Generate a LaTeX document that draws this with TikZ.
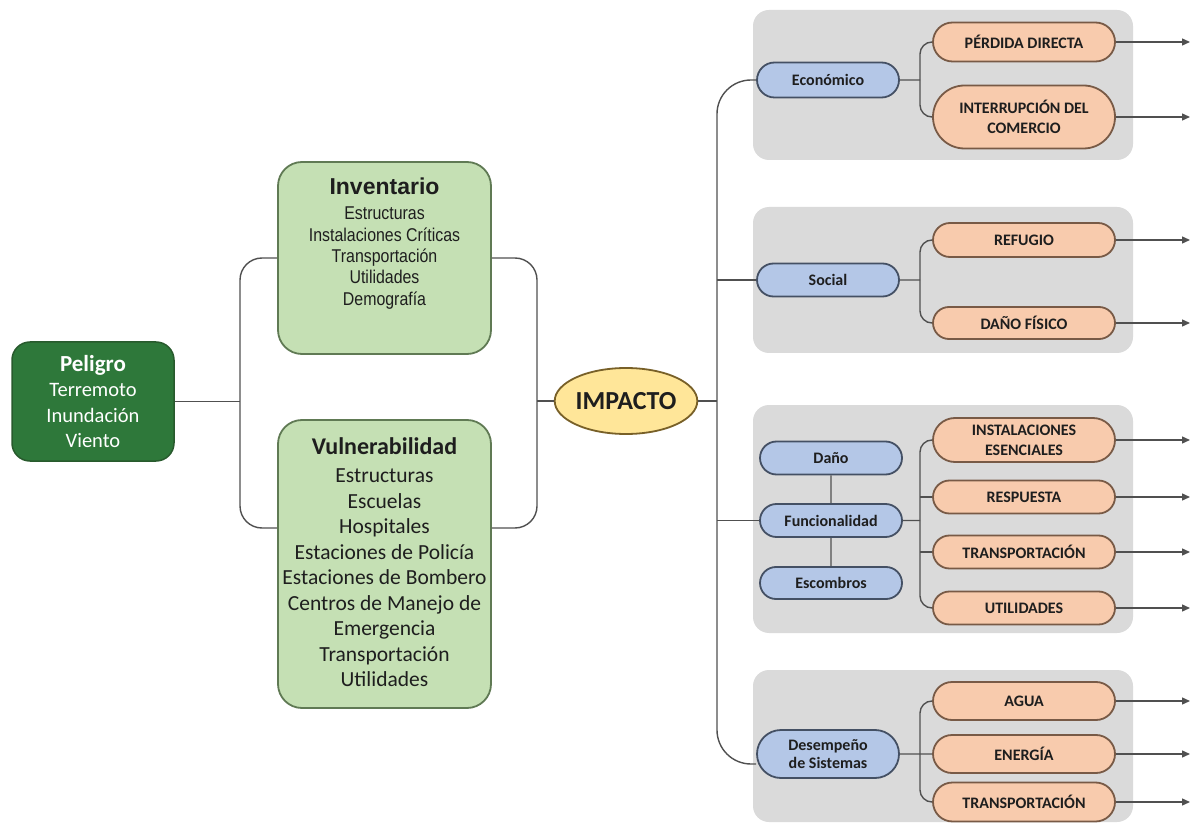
\documentclass[tikz,border=0pt]{standalone}
\usepackage{fontspec}
\setmainfont{Carlito}
\newfontfamily\arialfont{Liberation Sans}
\newfontfamily\narrowfont[FakeStretch=0.86]{Liberation Sans}
\usepackage{tikz}
\usetikzlibrary{shapes.misc, shapes.geometric, arrows.meta}
\usepackage{xcolor}
\definecolor{peligrogreen}{RGB}{46,120,58}
\definecolor{peligroedge}{RGB}{40,90,45}
\definecolor{lightgreen}{RGB}{197,224,180}
\definecolor{greenedge}{RGB}{96,122,84}
\definecolor{impactfill}{RGB}{255,230,153}
\definecolor{impactedge}{RGB}{120,96,40}
\definecolor{panelgray}{RGB}{218,218,218}
\definecolor{bluefill}{RGB}{180,199,231}
\definecolor{blueedge}{RGB}{68,80,100}
\definecolor{orangefill}{RGB}{248,203,173}
\definecolor{orangeedge}{RGB}{120,90,70}
\definecolor{linegray}{RGB}{80,80,80}
\definecolor{textdark}{RGB}{30,30,30}

\begin{document}
\begin{tikzpicture}[x=1pt, y=-1pt,
    line/.style={draw=linegray, line width=1.4pt},
    arrowline/.style={line, -{Triangle[length=8pt, width=7pt]}},
    panel/.style={fill=panelgray, rounded corners=16pt},
    peligrobox/.style={draw=peligroedge, line width=1.5pt, fill=peligrogreen, rounded corners=18pt,
        minimum width=162pt, minimum height=119pt, align=center, text=white,
        font=\fontsize{20.5}{25.5}\selectfont},
    greenbox/.style={draw=greenedge, line width=1.8pt, fill=lightgreen, rounded corners=24pt,
        inner sep=0pt, text=textdark},
    impactbox/.style={ellipse, draw=impactedge, line width=1.8pt, fill=impactfill, inner sep=0pt,
        minimum width=139pt, minimum height=66pt, text=textdark,
        font=\fontsize{26}{28}\selectfont\bfseries},
    bluepill/.style={rounded rectangle, draw=blueedge, line width=1.8pt, fill=bluefill,
        minimum width=142pt, minimum height=33pt, inner sep=0pt, align=center, text=textdark,
        font=\fontsize{16}{18.5}\selectfont\bfseries},
    orangepill/.style={rounded rectangle, draw=orangeedge, line width=1.8pt, fill=orangefill,
        minimum width=182pt, minimum height=34pt, inner sep=0pt, align=center, text=textdark,
        font=\fontsize{16}{20}\selectfont\bfseries}]
    \useasboundingbox (0,0) rectangle (1192,826);
    % Panels
    \fill[panel] (753,10) rectangle (1133,160);
    \fill[panel] (753,207) rectangle (1133,353);
    \fill[panel] (753,405) rectangle (1133,633);
    \fill[panel] (753,670) rectangle (1133,822);
    % Peligro
    \node[peligrobox] (peligro) at (93,401.5) {{\fontsize{23}{26}\selectfont\bfseries Peligro}\\Terremoto\\Inundación\\Viento};
    % Inventario
    \node[greenbox] (inv) at (384.5,258) {\parbox[c][192pt][t]{213pt}{\centering\arialfont
        \vspace*{16pt}{\fontsize{23}{25}\selectfont\bfseries Inventario\par}\vspace{4pt}
        \narrowfont\fontsize{18.5}{21.3}\selectfont Estructuras\\Instalaciones Críticas\\Transportación\\Utilidades\\Demografía\par}};
    % Vulnerabilidad
    \node[greenbox] (vul) at (384.5,564) {\parbox[c][288pt][t]{213pt}{\centering
        \vspace*{18pt}{\fontsize{24}{26}\selectfont\bfseries Vulnerabilidad\par}\vspace{2.5pt}
        \fontsize{21.5}{25.5}\selectfont Estructuras\\Escuelas\\Hospitales\\Estaciones de Policía\\Estaciones de Bombero\\Centros de Manejo de\\Emergencia\\Transportación\\Utilidades\par}};
    % Impacto
    \node[impactbox] (impacto) at (626,401) {IMPACTO};
    % Blue pills
    \node[bluepill, minimum height=35pt] (eco) at (828,80) {Económico};
    \node[bluepill] (soc) at (828,280) {Social};
    \node[bluepill] (dano) at (831,458) {Daño};
    \node[bluepill] (fun) at (831,520.5) {Funcionalidad};
    \node[bluepill, minimum height=32pt] (esc) at (831,583) {Escombros};
    \node[bluepill, minimum height=48pt] (des) at (828,754) {Desempeño\\de Sistemas};
    % Orange pills
    \node[orangepill, minimum height=39pt] (pd) at (1024,42) {PÉRDIDA DIRECTA};
    \node[orangepill, minimum height=63pt] (ic) at (1024,117) {INTERRUPCIÓN DEL\\COMERCIO};
    \node[orangepill] (ref) at (1024,240) {REFUGIO};
    \node[orangepill, minimum height=32pt] (df) at (1024,323) {DAÑO FÍSICO};
    \node[orangepill, minimum height=44pt] (ie) at (1024,440) {INSTALACIONES\\ESENCIALES};
    \node[orangepill, minimum height=33pt] (re) at (1024,497) {RESPUESTA};
    \node[orangepill, minimum height=33pt] (tp) at (1024,552) {TRANSPORTACIÓN};
    \node[orangepill, minimum height=33pt] (ut) at (1024,608) {UTILIDADES};
    \node[orangepill, minimum height=38pt] (ag) at (1024,701) {AGUA};
    \node[orangepill, minimum height=38pt] (en) at (1024,754) {ENERGÍA};
    \node[orangepill, minimum height=39pt] (tp2) at (1024,802) {TRANSPORTACIÓN};
    % Junctions
    \coordinate (jl) at (240,401.5);
    \coordinate (jr) at (537,401);
    \coordinate (tr) at (717,401);
    \coordinate (se) at (920,80);
    \coordinate (ss) at (920,280);
    \coordinate (sf) at (920,520.5);
    \coordinate (sd) at (920,754);
    \coordinate (ae) at (1190,0);
    % Left tree
    \draw[line] (peligro) -- (jl);
    \draw[line, rounded corners=22pt] (inv.west) -| (jl) |- ([yshift=36pt]vul.west);
    \draw[line, rounded corners=22pt] (inv.east) -| (jr) |- ([yshift=36pt]vul.east);
    \draw[line] (jr) -- (impacto);
    % Trunk
    \draw[line] (impacto) -- (tr);
    \draw[line, rounded corners=34pt] (eco.west) -| (tr) |- ([yshift=-10pt]des.west);
    \draw[line] (tr |- soc.west) -- (soc.west);
    \draw[line] (tr |- fun.west) -- (fun.west);
    \draw[line] (dano) -- (fun) -- (esc);
    % Splits
    \draw[line] (eco) -- (se);
    \draw[line, rounded corners=12pt] (pd.west) -| (se) |- (ic.west);
    \draw[line] (soc) -- (ss);
    \draw[line, rounded corners=12pt] (ref.west) -| (ss) |- (df.west);
    \draw[line] (fun) -- (sf);
    \draw[line, rounded corners=12pt] (ie.west) -| (sf) |- (ut.west);
    \draw[line] (re.west) -- (re.west -| sf);
    \draw[line] (tp.west) -- (tp.west -| sf);
    \draw[line] (des) -- (en);
    \draw[line, rounded corners=12pt] (ag.west) -| (sd) |- (tp2.west);
    % Arrows
    \foreach \n in {pd,ic,ref,df,ie,re,tp,ut,ag,en,tp2}
        \draw[arrowline] (\n.east) -- (\n.east -| ae);
\end{tikzpicture}
\end{document}
